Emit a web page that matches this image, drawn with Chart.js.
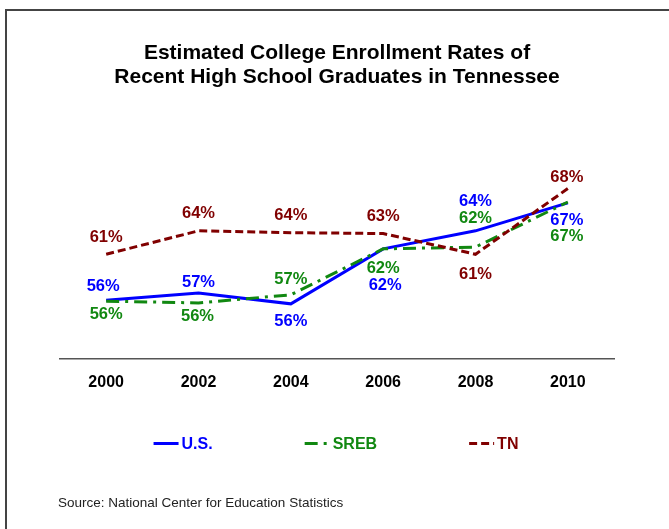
<!DOCTYPE html>
<html>
<head>
<meta charset="utf-8">
<script src="https://cdn.jsdelivr.net/npm/chart.js@4.4.1/dist/chart.umd.min.js"></script>
<style>
  html, body { margin: 0; padding: 0; background: #fff; }
  #wrap { position: relative; width: 669px; height: 529px; }
</style>
</head>
<body>
<div id="wrap"><canvas id="enrollChart"></canvas></div>
<script>
const years = ['2000', '2002', '2004', '2006', '2008', '2010'];
const usRates = [56.0, 56.8, 55.6, 61.7, 63.7, 66.8];
const srebRates = [55.9, 55.7, 56.6, 61.7, 61.9, 66.9];
const tnRates = [61.1, 63.7, 63.5, 63.4, 61.1, 68.4];
const seriesNames = ['U.S.', 'SREB', 'TN'];
const titleLines = ['Estimated College Enrollment Rates of', 'Recent High School Graduates in Tennessee'];
const sourceNote = 'Source: National Center for Education Statistics';

const FONT = '"Liberation Sans", Arial, Helvetica, sans-serif';
const colors = { us: '#0000ff', sreb: '#118811', tn: '#800000' };

// where each value label sits relative to its point, [dx, dy] in px
const labelOffsets = [
  [[-3, -14], [0, -11], [0, 18], [2, 37], [0, -29], [-1, 18]],
  [[0, 13], [-1, 14], [0, -15], [0, 20], [0, -29], [-1, 34]],
  [[0, -17], [0, -17], [0, -17], [0, -17], [0, 20], [-1, -11]],
];

const decor = {
  id: 'decor',
  beforeDraw(chart) {
    const ctx = chart.ctx;
    ctx.save();
    ctx.fillStyle = '#fff';
    ctx.fillRect(0, 0, chart.width, chart.height);
    // frame (only top and left edges are inside the picture)
    ctx.strokeStyle = '#444';
    ctx.lineWidth = 2;
    ctx.beginPath();
    ctx.moveTo(6, chart.height);
    ctx.lineTo(6, 10);
    ctx.lineTo(chart.width, 10);
    ctx.stroke();
    ctx.restore();
  },
  afterDatasetsDraw(chart) {
    const ctx = chart.ctx;
    ctx.save();
    ctx.font = 'bold 16.5px ' + FONT;
    ctx.textAlign = 'center';
    ctx.textBaseline = 'middle';
    chart.data.datasets.forEach((ds, i) => {
      const meta = chart.getDatasetMeta(i);
      ctx.fillStyle = ds.borderColor;
      meta.data.forEach((pt, j) => {
        const [dx, dy] = labelOffsets[i][j];
        ctx.fillText(Math.round(ds.data[j]) + '%', pt.x + dx, pt.y + dy);
      });
    });
    ctx.restore();
  },
  afterDraw(chart) {
    const ctx = chart.ctx;
    const area = chart.chartArea;
    ctx.save();
    // legend
    ctx.font = 'bold 16px ' + FONT;
    ctx.textBaseline = 'middle';
    ctx.textAlign = 'left';
    const sample = 25, gap = 3, spacing = 92, legendY = 443.5;
    const items = chart.data.datasets.map(ds => ({ ds, w: sample + gap + ctx.measureText(ds.label).width }));
    const total = items.reduce((s, it) => s + it.w, 0) + spacing * (items.length - 1);
    let x = (area.left + area.right) / 2 - total / 2 - 1;
    items.forEach(({ ds, w }) => {
      ctx.strokeStyle = ds.borderColor;
      ctx.lineWidth = 3;
      ctx.setLineDash(ds.borderDash || []);
      ctx.beginPath();
      ctx.moveTo(x, legendY);
      ctx.lineTo(x + sample, legendY);
      ctx.stroke();
      ctx.setLineDash([]);
      ctx.fillStyle = ds.borderColor;
      ctx.fillText(ds.label, x + sample + gap, legendY + 1);
      x += w + spacing;
    });
    // source note
    ctx.font = '13.5px ' + FONT;
    ctx.fillStyle = '#222';
    ctx.fillText(sourceNote, 58, 503);
    ctx.restore();
  }
};

new Chart(document.getElementById('enrollChart'), {
  type: 'line',
  data: {
    labels: years,
    datasets: [
      { label: seriesNames[0], data: usRates, borderColor: colors.us, borderWidth: 3, order: 2 },
      { label: seriesNames[1], data: srebRates, borderColor: colors.sreb, borderWidth: 3, borderDash: [13, 6, 3, 6], order: 1 },
      { label: seriesNames[2], data: tnRates, borderColor: colors.tn, borderWidth: 3, borderDash: [8, 4], order: 0 },
    ],
  },
  options: {
    responsive: true,
    maintainAspectRatio: false,
    animation: false,
    elements: { point: { radius: 0 }, line: { tension: 0, fill: false } },
    layout: { padding: { top: 0, left: 60, right: 55, bottom: 123 } },
    plugins: {
      legend: { display: false },
      tooltip: { enabled: false },
      title: {
        display: true,
        text: titleLines,
        color: '#000',
        font: { family: FONT, size: 21, weight: 'bold', lineHeight: 24 / 21 },
        padding: { top: 41, bottom: 31 },
      },
    },
    scales: {
      x: {
        offset: true,
        grid: { display: false, drawTicks: false },
        border: { display: true, color: '#555', width: 1.5 },
        ticks: { color: '#000', padding: 14, font: { family: FONT, size: 16, weight: 'bold' } },
      },
      y: { display: false, min: 49.5, max: 76 },
    },
  },
  plugins: [decor],
});
</script>
</body>
</html>
